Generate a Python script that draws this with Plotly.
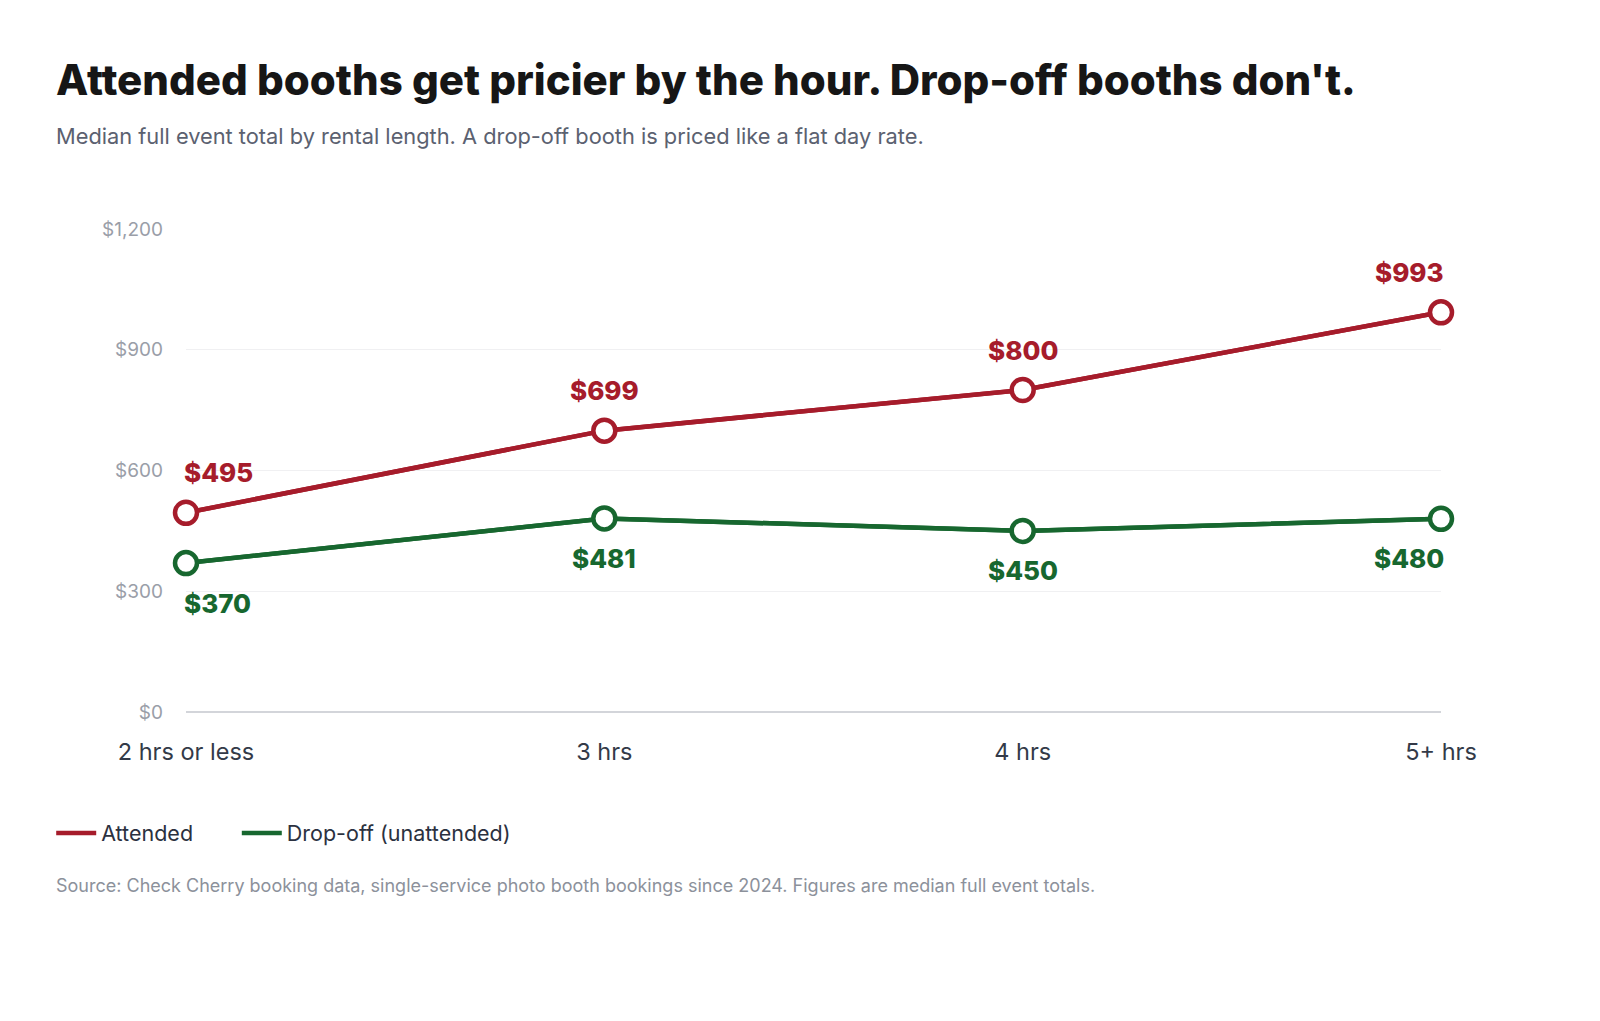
import plotly.graph_objects as go

# data
durations = ['2 hrs or less', '3 hrs', '4 hrs', '5+ hrs']
attended = [495, 699, 800, 993]
dropoff = [370, 481, 450, 480]
y_ticks = [0, 300, 600, 900, 1200]
y_tick_text = ['$0', '$300', '$600', '$900', '$1,200']

RED = '#a61c2b'
GREEN = '#17672f'
FONT = 'Inter, sans-serif'

# plot area in px
L, R, T, B = 178, 1433, 221, 704
PW, PH = R - L, B - T

def px_x(x):
    return (x - L) / PW

def px_y(y):
    return (B - y) / PH

fig = go.Figure()

# legend-only line entries (drawn underneath the real series), one legend each
for name, vals, col, leg in [('Attended', attended, RED, 'legend'),
                             ('Drop-off (unattended)', dropoff, GREEN, 'legend2')]:
    fig.add_trace(go.Scatter(x=durations, y=vals, name=name, mode='lines',
                             line=dict(color=col, width=4.5), hoverinfo='skip',
                             cliponaxis=False, legend=leg))

for name, vals, col in [('Attended', attended, RED), ('Drop-off (unattended)', dropoff, GREEN)]:
    fig.add_trace(go.Scatter(
        x=durations, y=vals, name=name, mode='lines+markers', showlegend=False,
        line=dict(color=col, width=4.5),
        marker=dict(size=22, color='white', line=dict(color=col, width=4.5)),
        cliponaxis=False, hoverinfo='skip'))

# value labels: red above, green below
anchors = ['left', 'center', 'center', 'right']
shifts = [-4, 0, 0, 5]
for i, d in enumerate(durations):
    fig.add_annotation(x=d, y=attended[i], text='$' + str(attended[i]),
                       showarrow=False, xanchor=anchors[i], xshift=shifts[i], yshift=40,
                       font=dict(family=FONT, size=26, color=RED, weight=800))
    fig.add_annotation(x=d, y=dropoff[i], text='$' + str(dropoff[i]),
                       showarrow=False, xanchor=anchors[i], xshift=shifts[i], yshift=-40,
                       font=dict(family=FONT, size=26, color=GREEN, weight=800))

# title / subtitle / source
fig.add_annotation(xref='paper', yref='paper', x=px_x(46), y=px_y(71),
                   text="Attended booths get pricier by the hour. Drop-off booths don't.",
                   showarrow=False, xanchor='left', yanchor='middle',
                   font=dict(family=FONT, size=42, color='#161616', weight=800))
fig.add_annotation(xref='paper', yref='paper', x=px_x(46), y=px_y(128),
                   text='Median full event total by rental length. A drop-off booth is priced like a flat day rate.',
                   showarrow=False, xanchor='left', yanchor='middle',
                   font=dict(family=FONT, size=21.8, color='#5b6170'))
fig.add_annotation(xref='paper', yref='paper', x=px_x(46), y=px_y(877),
                   text='Source: Check Cherry booking data, single-service photo booth bookings since 2024. Figures are median full event totals.',
                   showarrow=False, xanchor='left', yanchor='middle',
                   font=dict(family=FONT, size=18, color='#8c919b'))

legend_style = dict(orientation='h', xref='container', yref='container',
                    y=1 - 825 / 1021, xanchor='left', yanchor='middle',
                    font=dict(family=FONT, size=21.5, color='#2b3140'),
                    itemwidth=40, bgcolor='rgba(0,0,0,0)')

fig.update_layout(
    width=1600, height=1021,
    margin=dict(l=L, r=1600 - R, t=T, b=1021 - B),
    plot_bgcolor='white', paper_bgcolor='white',
    showlegend=True,
    legend=dict(x=0.027, **legend_style),
    legend2=dict(x=0.143, **legend_style),
    xaxis=dict(type='category', range=[0, 3], showgrid=False, showline=False,
               zeroline=False, ticks='', ticklabelstandoff=23,
               tickfont=dict(family=FONT, size=23.5, color='#333a48')),
    yaxis=dict(range=[0, 1200], tickvals=y_ticks, ticktext=y_tick_text,
               showgrid=True, gridcolor='#f0f0f2', gridwidth=1,
               zeroline=True, zerolinecolor='#d3d5da', zerolinewidth=1.5,
               showline=False, ticks='', ticklabelstandoff=22,
               tickfont=dict(family=FONT, size=19, color='#9a9ea8')),
    hovermode=False,
)

fig.write_html('out.html')
